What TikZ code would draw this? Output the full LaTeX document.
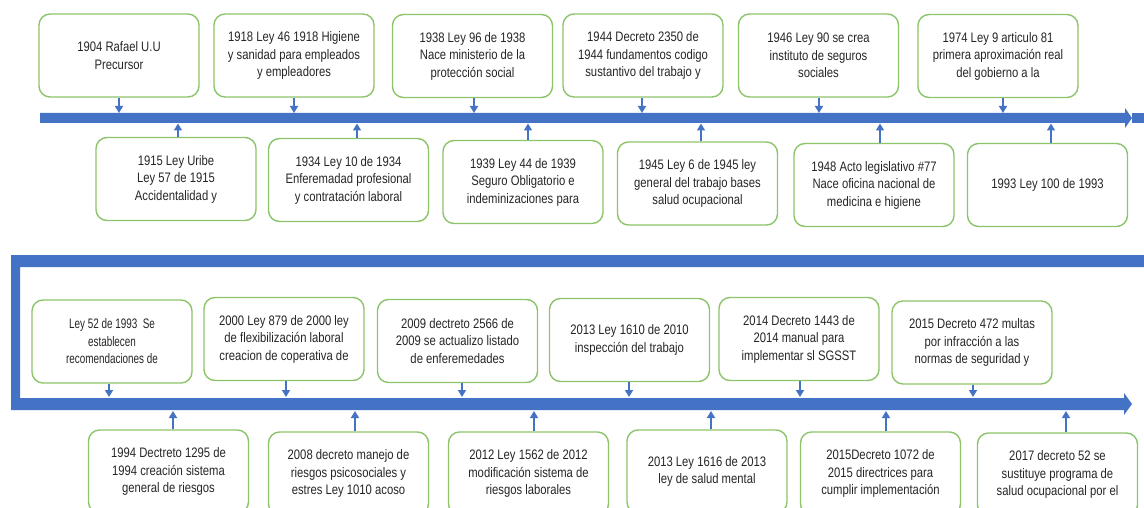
\documentclass[tikz,border=0pt]{standalone}
\usepackage{fontspec}
\setmainfont{Liberation Sans}[FakeStretch=0.82]
\newfontfamily\narrowfont{Liberation Sans}[FakeStretch=0.72]
\usetikzlibrary{arrows.meta}
\definecolor{barblue}{HTML}{4472C4}
\definecolor{boxgreen}{HTML}{8CC46A}
\definecolor{txtgray}{HTML}{262626}
\begin{document}
\begin{tikzpicture}[x=1pt,y=-1pt,
  box/.style={draw=boxgreen, line width=1.4pt, rounded corners=11pt, fill=white,
    minimum width=160pt, minimum height=83pt, inner sep=0pt, align=center,
    text=txtgray, font=\fontsize{13.75}{17.5}\selectfont},
  conn/.style={draw=barblue, line width=1.5pt, -{Triangle[length=7pt,width=8pt]}},
  bar/.style={fill=barblue, draw=none}]
\path[use as bounding box, fill=white] (0,0) rectangle (1144,508);
\clip (0,0) rectangle (1144,508);

% ---- main bars ----
\fill[bar] (40,113) -- (1125,113) -- (1125,108) -- (1132,118) -- (1125,128) -- (1125,123) -- (40,123) -- cycle;
\fill[bar] (1132,113.5) rectangle (1144,123);
\fill[bar] (11,255) -- (1144,255) -- (1144,267) -- (20,267) -- (20,398) -- (1124,398)
  -- (1124,393) -- (1132,404) -- (1124,415) -- (1124,410) -- (11,410) -- cycle;

% ---- row 1, above ----
\node[box] (u1) at (119,55.5) {1904 Rafael U.U\\Precursor};
\node[box] (u2) at (294,55.5) {1918 Ley 46 1918 Higiene\\y sanidad para empleados\\y empleadores};
\node[box] (u3) at (472.5,56) {1938 Ley 96 de 1938\\Nace ministerio de la\\protección social};
\node[box] (u4) at (643,55.5) {1944 Decreto 2350 de\\1944 fundamentos codigo\\sustantivo del trabajo y};
\node[box] (u5) at (818.5,55.5) {1946 Ley 90 se crea\\instituto de seguros\\sociales};
\node[box] (u6) at (998,56) {1974 Ley 9 articulo 81\\primera aproximación real\\del gobierno a la};

% ---- row 1, below ----
\node[box] (l1) at (176,179) {1915 Ley Uribe\\Ley 57 de 1915\\Accidentalidad y};
\node[box] (l2) at (348.5,180) {1934 Ley 10 de 1934\\Enferemadad profesional\\y contratación laboral};
\node[box] (l3) at (523,182) {1939 Ley 44 de 1939\\Seguro Obligatorio e\\indeminizaciones para};
\node[box] (l4) at (697.5,183.5) {1945 Ley 6 de 1945 ley\\general del trabajo bases\\salud ocupacional};
\node[box] (l5) at (874,185) {1948 Acto legislativo \#77\\Nace oficina nacional de\\medicina e higiene};
\node[box] (l6) at (1047.5,185) {1993 Ley 100 de 1993};

% ---- row 2, above ----
\node[box, font=\narrowfont\fontsize{13.75}{17.5}\selectfont] (v1) at (112,341.5) {Ley 52 de 1993~ Se\\establecen\\recomendaciones de};
\node[box] (v2) at (284,339) {2000 Ley 879 de 2000 ley\\de flexibilización laboral\\creacion de coperativa de};
\node[box] (v3) at (457.5,341) {2009 dectreto 2566 de\\2009 se actualizo listado\\de enferemedades};
\node[box] (v4) at (629.5,340) {2013 Ley 1610 de 2010\\inspección del trabajo};
\node[box] (v5) at (799,339) {2014 Decreto 1443 de\\2014 manual para\\implementar sl SGSST};
\node[box] (v6) at (972,342.5) {2015 Decreto 472 multas\\por infracción a las\\normas de seguridad y};

% ---- row 2, below ----
\node[box] (w1) at (168.5,471.5) {1994 Dectreto 1295 de\\1994 creación sistema\\general de riesgos};
\node[box] (w2) at (348.5,473.5) {2008 decreto manejo de\\riesgos psicosociales y\\estres Ley 1010 acoso};
\node[box] (w3) at (528.5,473.5) {2012 Ley 1562 de 2012\\modificación sistema de\\riesgos laborales};
\node[box] (w4) at (707,471.5) {2013 Ley 1616 de 2013\\ley de salud mental};
\node[box] (w5) at (880.5,473.5) {2015Decreto 1072 de\\2015 directrices para\\cumplir implementación};
\node[box] (w6) at (1057.5,474.5) {2017 decreto 52 se\\sustituye programa de\\salud ocupacional por el};

% ---- points on the bars ----
\coordinate (pu1) at (119,113);  \coordinate (pu2) at (294,113);
\coordinate (pu3) at (474,113);  \coordinate (pu4) at (642,113);
\coordinate (pu5) at (819,113);  \coordinate (pu6) at (1003,113);
\coordinate (pl1) at (178,123.5); \coordinate (pl2) at (357,123.5);
\coordinate (pl3) at (528,123.5); \coordinate (pl4) at (701,123.5);
\coordinate (pl5) at (880,123.5); \coordinate (pl6) at (1051,123.5);
\coordinate (pv1) at (109,397);  \coordinate (pv2) at (286,397);
\coordinate (pv3) at (462,397);  \coordinate (pv4) at (629,397);
\coordinate (pv5) at (800,397);  \coordinate (pv6) at (973,397);
\coordinate (pw1) at (173,411);  \coordinate (pw2) at (355,411);
\coordinate (pw3) at (534,411);  \coordinate (pw4) at (711,411);
\coordinate (pw5) at (886,411);  \coordinate (pw6) at (1066,411);

% ---- connectors ----
\foreach \i in {1,...,6} {
  \draw[conn] (u\i.south -| pu\i) -- (pu\i);
  \draw[conn] (l\i.north -| pl\i) -- (pl\i);
  \draw[conn] (v\i.south -| pv\i) -- (pv\i);
  \draw[conn] (w\i.north -| pw\i) -- (pw\i);
}
\end{tikzpicture}
\end{document}
